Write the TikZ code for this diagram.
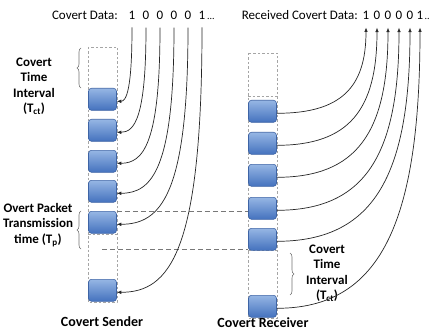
\documentclass[tikz,border=0pt]{standalone}
\usepackage{fontspec}
\setmainfont{Carlito}
\usetikzlibrary{calc,arrows.meta,decorations.pathreplacing}
\definecolor{pktTop}{RGB}{150,182,228}
\definecolor{pktBot}{RGB}{68,114,190}
\definecolor{pktEdge}{RGB}{62,100,165}
\definecolor{slotGrey}{RGB}{165,165,165}
\definecolor{guideGrey}{RGB}{120,120,120}
\begin{document}
\begin{tikzpicture}[x=1pt,y=-1pt,
  packet/.style={draw=pktEdge, line width=0.6pt, rounded corners=3pt,
    top color=pktTop, bottom color=pktBot,
    minimum width=28pt, minimum height=22pt, inner sep=0pt, anchor=north},
  slot/.style={draw=slotGrey, dash pattern=on 2.5pt off 2pt, line width=0.7pt},
  digit/.style={font=\fontsize{13}{15}\selectfont, inner sep=0.5pt, outer ysep=7pt, anchor=base},
  toptext/.style={font=\fontsize{13}{15}\selectfont, inner sep=0pt, anchor=base east},
  sidelabel/.style={font=\bfseries\fontsize{13}{15.5}\selectfont, align=center, inner sep=0pt},
  title/.style={font=\bfseries\fontsize{14}{16}\selectfont, inner sep=0pt},
  flow/.style={draw=black!85, line width=0.7pt, -{Latex[length=4.5pt,width=3.6pt]}},
  guide/.style={draw=guideGrey, line width=0.8pt, dash pattern=on 5pt off 3pt},
  bracket/.style={draw=black!55, line width=0.6pt, decorate, decoration={brace, amplitude=4pt}}
]
\useasboundingbox[fill=white] (0,0) rectangle (430,331);

% header rows
\node[toptext] (sdl) at (118,20) {Covert Data:};
\foreach \n/\x/\t in {1/132/1, 2/146/0, 3/160/0, 4/174/0, 5/188/0, 6/202/1}
  \node[digit] (sd\n) at (\x,20) {\t};
\node[inner sep=0pt, anchor=base west] (sdots) at ([xshift=1pt]sd6.base east) {...};

\node[toptext] (rdl) at (358,20) {Received Covert Data:};
\foreach \n/\x/\t in {1/366/1, 2/377/0, 3/388/0, 4/399/0, 5/410/0, 6/420/1}
  \node[digit] (rd\n) at (\x,20) {\t};
\node[inner sep=0pt, anchor=base west] (rdots) at ([xshift=0.5pt]rd6.base east) {..};

% time slots of the two columns
\draw[slot] (88,47) rectangle (117,302);
\draw[slot] (88,234) -- (117,234);
\draw[slot] (248,53) rectangle (277,318);
\draw[slot] (248,96) -- (277,96);
\draw[slot] (248,250) -- (277,250);

% packets
\foreach \n/\y in {1/88, 2/119, 3/150, 4/180, 5/211, 6/279}
  \node[packet] (sp\n) at (102.5,\y) {};
\foreach \n/\y in {1/100, 2/132, 3/164, 4/197, 5/228, 6/295}
  \node[packet] (rp\n) at (262.5,\y) {};

% transmission time guides
\draw[guide] (sp5.north east) -- (sp5.north east -| rp4.west);
\coordinate (tpEnd) at (102,249);
\draw[guide] (tpEnd) -- (tpEnd -| rp5.west);

% braces and their labels
\draw[bracket] (81,88) -- (81,48);
\draw[bracket] (81,249) -- (81,211);
\draw[bracket] (290,253) -- (290,295);
\node[sidelabel] (ctiA) at (34,86) {Covert\\Time\\Interval\\(T\textsubscript{ct})};
\node[sidelabel] (tpl) at (38,225) {Overt Packet\\Transmission\\time (T\textsubscript{p})};
\node[sidelabel] (ctiB) at (327,273) {Covert\\Time\\Interval\\(T\textsubscript{ct})};

\node[title] (snd) at (102,322) {Covert Sender};
\node[title] (rcv) at (263,323) {Covert Receiver};

% data bits into the sender, out of the receiver
\foreach \i in {1,...,6}{
  \coordinate (se\i) at ([yshift=-2pt]sp\i.east);
  \draw[flow] (sd\i.south) .. controls ($(sd\i.south)!0.85!(sd\i.south |- se\i)$)
    and ($(se\i)!0.62!(se\i -| sd\i.south)$) .. (se\i);
  \coordinate (rs\i) at ([yshift=-2pt]rp\i.east);
  \draw[flow] (rs\i) .. controls ($(rs\i)!0.72!(rs\i -| rd\i.south)$)
    and ($(rd\i.south)!0.7!(rd\i.south |- rs\i)$) .. (rd\i.south);
}
\end{tikzpicture}
\end{document}
